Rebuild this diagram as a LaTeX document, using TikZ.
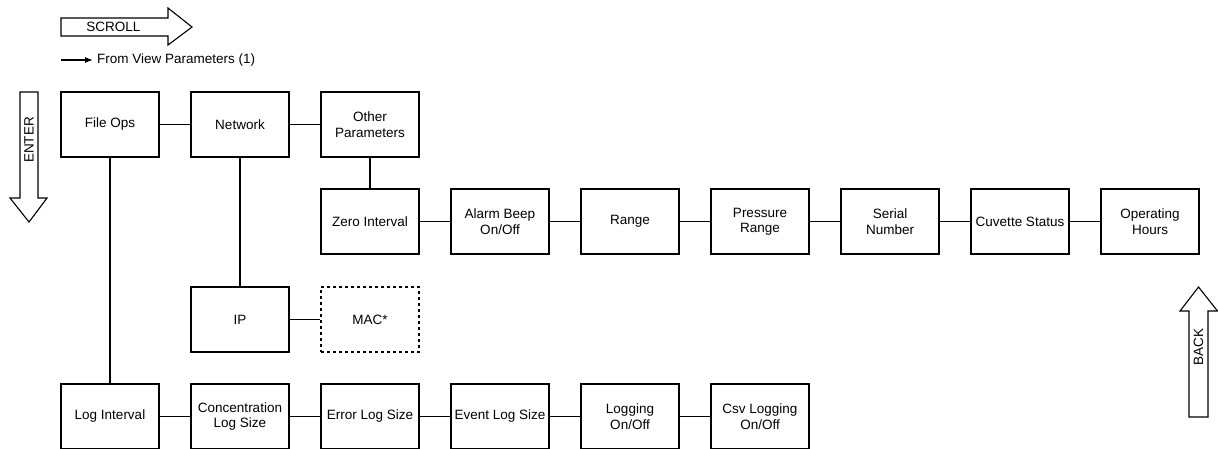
\documentclass[tikz,border=0pt]{standalone}
\usepackage{fontspec}
\setmainfont{Liberation Sans}
\usetikzlibrary{arrows.meta}
\begin{document}
\begin{tikzpicture}[x=1pt,y=-1pt,
  box/.style={draw,line width=1.2pt,minimum width=98pt,minimum height=65pt,inner sep=0pt,
     align=center,font=\fontsize{13.5}{15.5}\selectfont},
  dotbox/.style={box,dash pattern=on 3pt off 3pt},
  link/.style={line width=1.2pt},
  bigarrow/.style={draw,line width=1.1pt,fill=white},
  lbl/.style={font=\fontsize{13.5}{15}\selectfont,inner sep=0pt}]
\useasboundingbox (0,0) rectangle (1218,448);
\clip (0,0) rectangle (1218,448);
% row 1
\node[box] (fileops) at (110,124.5) {File Ops};
\node[box] (network) at (240,124.5) {Network};
\node[box] (other) at (370,124.5) {Other\\Parameters};
% row 2
\node[box] (zero) at (370,221.5) {Zero Interval};
\node[box] (alarm) at (500,221.5) {Alarm Beep\\On/Off};
\node[box] (range) at (630,221.5) {Range};
\node[box] (pressure) at (760,221.5) {Pressure\\Range};
\node[box] (serial) at (890,221.5) {Serial\\Number};
\node[box] (cuvette) at (1020,221.5) {Cuvette Status};
\node[box] (hours) at (1150,221.5) {Operating\\Hours};
% row 3
\node[box] (ip) at (240,319.5) {IP};
\node[dotbox] (mac) at (370,319.5) {MAC*};
% row 4
\node[box] (logint) at (110,416.5) {Log Interval};
\node[box] (conc) at (240,416.5) {Concentration\\Log Size};
\node[box] (errlog) at (370,416.5) {Error Log Size};
\node[box] (evlog) at (500,416.5) {Event Log Size};
\node[box] (logging) at (630,416.5) {Logging\\On/Off};
\node[box] (csv) at (760,416.5) {Csv Logging\\On/Off};
% connectors
\draw[link] (fileops) -- (network);
\draw[link] (network) -- (other);
\draw[link] (fileops) -- (logint);
\draw[link] (network) -- (ip);
\draw[link] (other) -- (zero);
\draw[link] (zero) -- (alarm);
\draw[link] (alarm) -- (range);
\draw[link] (range) -- (pressure);
\draw[link] (pressure) -- (serial);
\draw[link] (serial) -- (cuvette);
\draw[link] (cuvette) -- (hours);
\draw[link] (ip) -- (mac);
\draw[link] (logint) -- (conc);
\draw[link] (conc) -- (errlog);
\draw[link] (errlog) -- (evlog);
\draw[link] (evlog) -- (logging);
\draw[link] (logging) -- (csv);
% SCROLL arrow
\draw[bigarrow] (61,18) -- (168,18) -- (168,8) -- (192,27) -- (168,45) -- (168,36) -- (61,36) -- cycle;
\node[lbl] (scroll) at (113.5,27) {SCROLL};
% From View Parameters
\coordinate (fvstart) at (61,60);
\node[lbl,anchor=west] (fromview) at (97,60) {From View Parameters (1)};
\draw[line width=1.2pt,-{Latex[length=8pt,width=6pt]},shorten >=4pt] (fvstart) -- (fromview.west);
% ENTER arrow
\draw[bigarrow] (20,92) -- (38,92) -- (38,198) -- (47,198) -- (29,222) -- (10,198) -- (20,198) -- cycle;
\node[lbl,rotate=90] (enter) at (29,140) {ENTER};
% BACK arrow
\draw[bigarrow] (1189,417) -- (1208,417) -- (1208,311) -- (1217.5,311) -- (1198.5,287) -- (1180,311) -- (1189,311) -- cycle;
\node[lbl,rotate=90] (back) at (1198.5,347) {BACK};
\end{tikzpicture}
\end{document}
